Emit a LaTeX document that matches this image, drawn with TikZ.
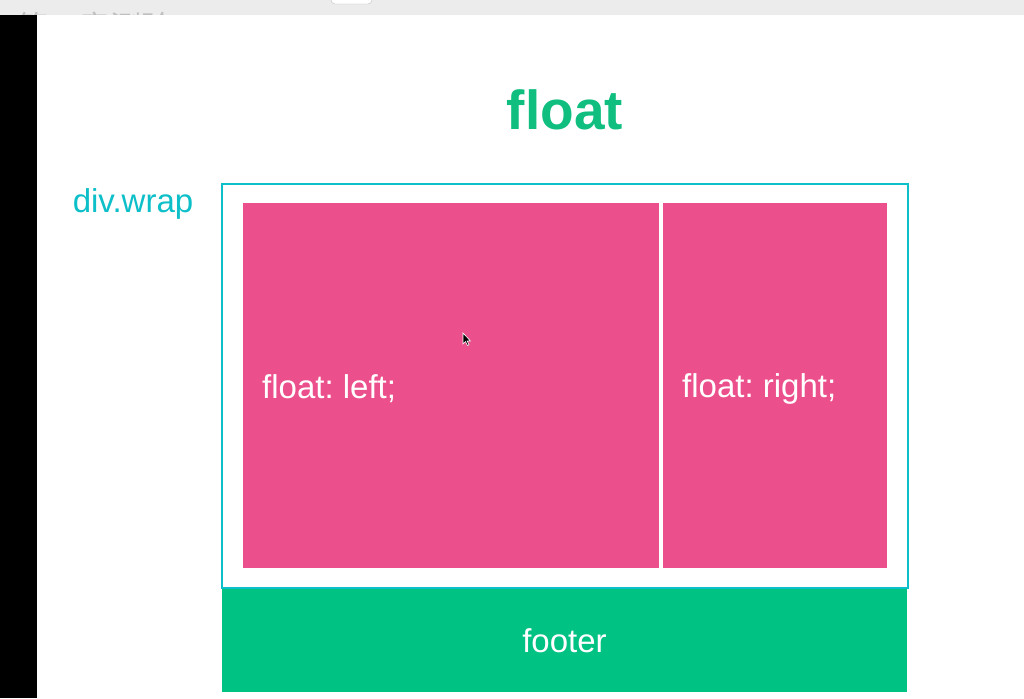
\documentclass[tikz,border=0pt]{standalone}
\usepackage{fontspec}
\setmainfont{Liberation Sans}
\newfontfamily\cjkfont{Noto Sans CJK SC}
\usetikzlibrary{positioning}
\definecolor{floatpink}{HTML}{EC508C}
\definecolor{footgreen}{HTML}{00C283}
\definecolor{wrapcyan}{HTML}{0DBFC8}
\definecolor{titlegreen}{HTML}{10BF7F}
\definecolor{bargray}{HTML}{ECECEC}
\frenchspacing

\begin{document}
\begin{tikzpicture}[x=1pt,y=-1pt,
  block/.style={anchor=north west, inner sep=0pt, outer sep=0pt},
  lbl/.style={font=\fontsize{33}{37}\selectfont, inner sep=0pt}]
\useasboundingbox (0,0) rectangle (1024,698);

% window frame
\fill[white] (0,0) rectangle (1024,698);
\fill[bargray] (0,0) rectangle (1024,15);
\begin{scope}
\clip (0,0) rectangle (1024,15);
\node[anchor=west, inner sep=0pt, text=black!25, font=\cjkfont\fontsize{31}{34}\selectfont] (chapter) at (17,27) {第二章测验};
\end{scope}
\draw[black!25, fill=white, rounded corners=4pt] (331,-8) rectangle (372,4);
\fill[black] (0,15) rectangle (37,698);

% title
\node[inner sep=0pt, text=titlegreen, font=\bfseries\fontsize{55}{60}\selectfont] (title) at (565,110) {float};
\node[lbl, text=wrapcyan] (wraplbl) at (133,204) {div.wrap};

% boxes
\node[block, draw=wrapcyan, line width=2.2pt, minimum width=686pt, minimum height=404pt] (wrap) at (222,184) {};
\node[block, fill=floatpink, minimum width=416pt, minimum height=365pt] (leftbox) at (243,203) {};
\node[block, fill=floatpink, minimum width=224pt, minimum height=365pt] (rightbox) at (663,203) {};
\node[block, fill=footgreen, minimum width=685pt, minimum height=103pt] (footer) at (222,589) {};

% labels
\node[lbl, text=white, anchor=west, right=19pt of leftbox.west, yshift=-3pt] (lefttxt) {float: left;};
\node[lbl, text=white, anchor=west, right=19pt of rightbox.west, yshift=-3pt] (righttxt) {float: right;};
\node[lbl, text=white] (foottxt) at (footer.center) {footer};

% mouse pointer
\draw[white, fill=black, line width=0.6pt, shift={(463,333)}]
  (0,0) -- (0,11) -- (2.5,8.5) -- (4.5,12.5) -- (6,11.8) -- (4.2,8) -- (7.5,8) -- cycle;
\end{tikzpicture}
\end{document}
